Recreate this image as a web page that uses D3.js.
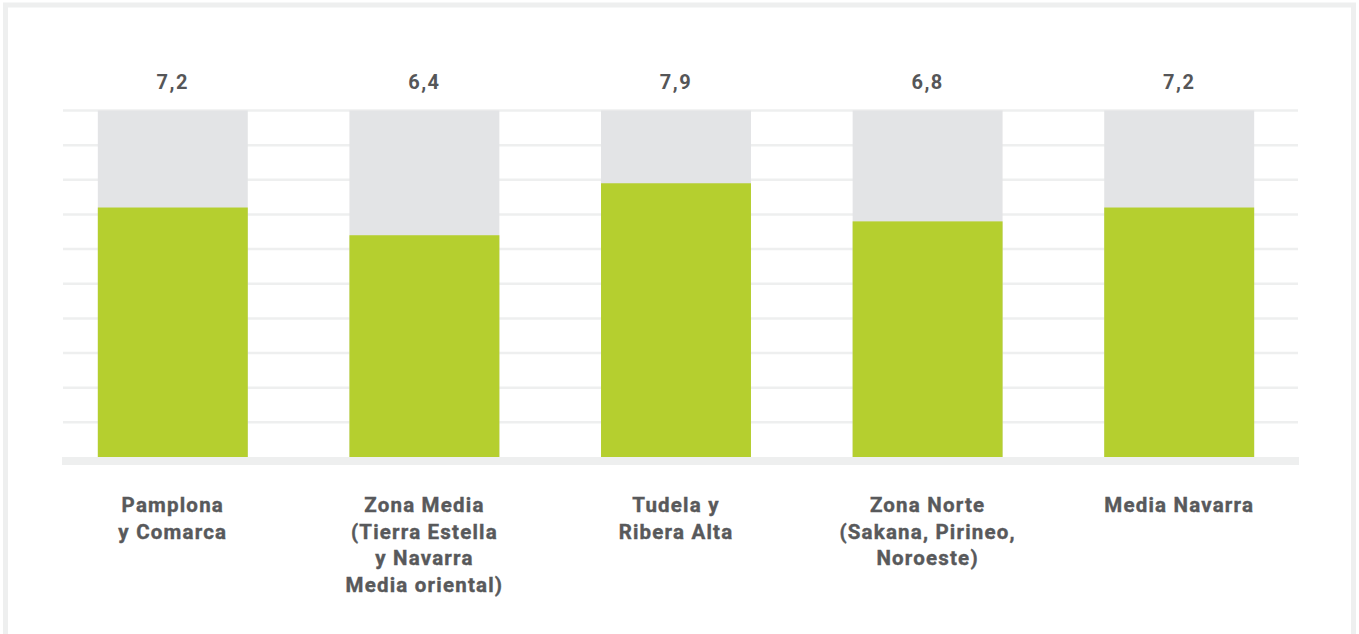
<!DOCTYPE html>
<html>
<head>
<meta charset="utf-8">
<script src="https://cdn.jsdelivr.net/npm/d3@7"></script>
<style>
  body { margin: 0; background: #fff; }
  svg { display: block; }
</style>
</head>
<body>
<script>
// valores por zona, escala 0-10
var zones = ["Pamplona\ny Comarca", "Zona Media\n(Tierra Estella\ny Navarra\nMedia oriental)", "Tudela y\nRibera Alta", "Zona Norte\n(Sakana, Pirineo,\nNoroeste)", "Media Navarra"];
var values = [7.2, 6.4, 7.9, 6.8, 7.2];
var labels = ["7,2", "6,4", "7,9", "6,8", "7,2"];
var maxValue = 10;
var gridTicks = [0, 1, 2, 3, 4, 5, 6, 7, 8, 9, 10];

var width = 1359;
var height = 634;

var svg = d3.select("body").append("svg")
    .attr("width", width)
    .attr("height", height);

// marco gris
svg.append("rect")
    .attr("x", 5.5)
    .attr("y", 5)
    .attr("width", 1348)
    .attr("height", 640)
    .attr("fill", "#fff")
    .attr("stroke", "#eeefef")
    .attr("stroke-width", 5);

var x_scale = d3.scaleBand()
    .domain(d3.range(zones.length))
    .range([47, 1305])
    .paddingInner(0.404)
    .paddingOuter(0.202);

var y_scale = d3.scaleLinear()
    .domain([0, maxValue])
    .range([457, 110.5]);

var grid = svg.append("g").attr("id", "grid");
grid.selectAll("line")
    .data(gridTicks.filter(function(d) { return d > 0; }))
    .enter().append("line")
    .attr("x1", 63)
    .attr("x2", 1298)
    .attr("y1", function(d) { return y_scale(d); })
    .attr("y2", function(d) { return y_scale(d); })
    .attr("stroke", "#eeefef")
    .attr("stroke-width", 2.5);

// linea base gruesa
svg.append("rect")
    .attr("x", 62)
    .attr("y", y_scale(0))
    .attr("width", 1237)
    .attr("height", 8)
    .attr("fill", "#eeefef");

var bars = svg.append("g").attr("id", "bars");

bars.selectAll(".bg")
    .data(values)
    .enter().append("rect")
    .attr("class", "bg")
    .attr("x", function(d, i) { return x_scale(i); })
    .attr("y", y_scale(maxValue))
    .attr("width", x_scale.bandwidth())
    .attr("height", y_scale(0) - y_scale(maxValue))
    .attr("fill", "#e3e4e6");

bars.selectAll(".bar")
    .data(values)
    .enter().append("rect")
    .attr("class", "bar")
    .attr("x", function(d, i) { return x_scale(i); })
    .attr("y", function(d) { return y_scale(d); })
    .attr("width", x_scale.bandwidth())
    .attr("height", function(d) { return y_scale(0) - y_scale(d); })
    .attr("fill", "#b5cf2f");

svg.append("g").selectAll("text")
    .data(labels)
    .enter().append("text")
    .attr("x", function(d, i) { return x_scale(i) + x_scale.bandwidth() / 2; })
    .attr("y", 89)
    .attr("text-anchor", "middle")
    .style("font-family", "Roboto, sans-serif")
    .style("font-weight", "bold")
    .style("font-size", "20px")
    .style("letter-spacing", "1.5px")
    .attr("fill", "#555658")
    .text(function(d) { return d; });

var cats = svg.append("g").attr("id", "categories");
zones.forEach(function(z, i) {
  var t = cats.append("text")
      .attr("x", x_scale(i) + x_scale.bandwidth() / 2)
      .attr("y", 512)
      .attr("text-anchor", "middle")
      .style("font-family", "Roboto, sans-serif")
      .style("font-weight", "bold")
      .style("font-size", "20.5px")
      .style("letter-spacing", "1.2px")
      .style("stroke", "#58595b")
      .style("stroke-width", "0.4px")
      .attr("fill", "#58595b");
  z.split("\n").forEach(function(line, j) {
    t.append("tspan")
      .attr("x", x_scale(i) + x_scale.bandwidth() / 2)
      .attr("dy", j == 0 ? 0 : 26.5)
      .text(line);
  });
});
</script>
</body>
</html>
